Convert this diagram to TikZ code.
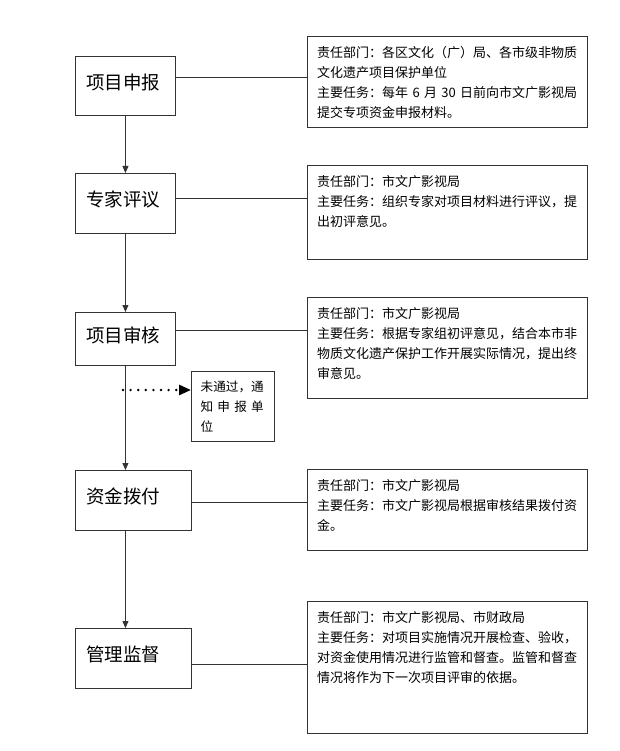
\documentclass[tikz,border=0pt]{standalone}
\usepackage{fontspec}
\setmainfont{Liberation Serif}
\newfontfamily\cjk{Noto Sans CJK SC}
\usetikzlibrary{arrows.meta}
\begin{document}
\begin{tikzpicture}[x=1pt,y=-1pt,
  lbox/.style={draw=black!80, line width=0.9pt, anchor=north west, font=\cjk\fontsize{18.5}{22}\selectfont, align=left, inner xsep=11pt, text depth=9pt},
  rbox/.style={draw=black!80, line width=0.9pt, anchor=north west, minimum width=280pt, inner sep=0pt},
  rtext/.style={anchor=north west, inner sep=0pt, text width=268pt, align=left, font=\cjk\fontsize{13}{20}\selectfont},
  conn/.style={draw=black!80, line width=0.9pt},
  arr/.style={conn, -{Triangle[length=7pt,width=6pt]}}]
\fill[white] (0,0) rectangle (619,751);
\useasboundingbox (0,0) rectangle (619,751);

% left boxes
\node[lbox, text width=78pt, minimum height=59pt] (b1) at (75,56) {项目申报};
\node[lbox, text width=78pt, minimum height=60pt] (b2) at (75,173) {专家评议};
\node[lbox, text width=78pt, minimum height=53pt] (b3) at (75,312) {项目审核};
\node[lbox, text width=94pt, minimum height=60pt] (b4) at (75,470) {资金拨付};
\node[lbox, text width=94pt, minimum height=60pt] (b5) at (75,628) {管理监督};

% right boxes
\node[rbox, minimum height=91pt] (r1) at (307,36) {};
\node[rbox, minimum height=94pt] (r2) at (307,165) {};
\node[rbox, minimum height=101pt] (r3) at (307,297) {};
\node[rbox, minimum height=81pt] (r4) at (307,469) {};
\node[rbox, minimum height=132pt] (r5) at (307,601) {};

\node[rtext] (t1) at ([shift={(10pt,-10pt)}]r1.north west) {责任部门：各区文化（广）局、各市级非物质\\文化遗产项目保护单位\\主要任务：每年 6 月 30 日前向市文广影视局\\提交专项资金申报材料。};
\node[rtext] (t2) at ([shift={(10pt,-10pt)}]r2.north west) {责任部门：市文广影视局\\主要任务：组织专家对项目材料进行评议，提\\出初评意见。};
\node[rtext] (t3) at ([shift={(10pt,-10pt)}]r3.north west) {责任部门：市文广影视局\\主要任务：根据专家组初评意见，结合本市非\\物质文化遗产保护工作开展实际情况，提出终\\审意见。};
\node[rtext] (t4) at ([shift={(10pt,-10pt)}]r4.north west) {责任部门：市文广影视局\\主要任务：市文广影视局根据审核结果拨付资\\金。};
\node[rtext] (t5) at ([shift={(10pt,-10pt)}]r5.north west) {责任部门：市文广影视局、市财政局\\主要任务：对项目实施情况开展检查、验收，\\对资金使用情况进行监管和督查。监管和督查\\情况将作为下一次项目评审的依据。};

% horizontal connectors
\coordinate (c1) at (0,77);
\coordinate (c2) at (0,198);
\coordinate (c3) at (0,330);
\coordinate (c4) at (0,502);
\coordinate (c5) at (0,664);
\draw[conn] (b1.east |- c1) -- (r1.west |- c1);
\draw[conn] (b2.east |- c2) -- (r2.west |- c2);
\draw[conn] (b3.east |- c3) -- (r3.west |- c3);
\draw[conn] (b4.east |- c4) -- (r4.west |- c4);
\draw[conn] (b5.east |- c5) -- (r5.west |- c5);

% vertical arrows
\draw[arr] (b1.south) -- (b2.north);
\draw[arr] (b2.south) -- (b3.north);
\draw[arr] (b3.south) -- (b3.south |- b4.north);
\draw[arr] (b3.south |- b4.south) -- (b3.south |- b5.north);

% rejection box
\node[draw=black!80, line width=0.9pt, anchor=north west, minimum width=83pt, minimum height=70pt, inner sep=0pt] (s) at (191,371) {};
\node[anchor=north west, inner sep=0pt, align=left, font=\cjk\fontsize{12.6}{20}\selectfont] (st) at ([shift={(9.5pt,-10pt)}]s.north west) {未通过，通\\\makebox[63pt][s]{知\hfill 申\hfill 报\hfill 单}\\位};

\coordinate (d) at (123,390);
\draw[draw=black, line width=2.7pt, dash pattern=on 0pt off 7.6pt, line cap=round, -{Triangle[length=12pt,width=10pt]}] (d) -- (s.west |- d);
\end{tikzpicture}
\end{document}
